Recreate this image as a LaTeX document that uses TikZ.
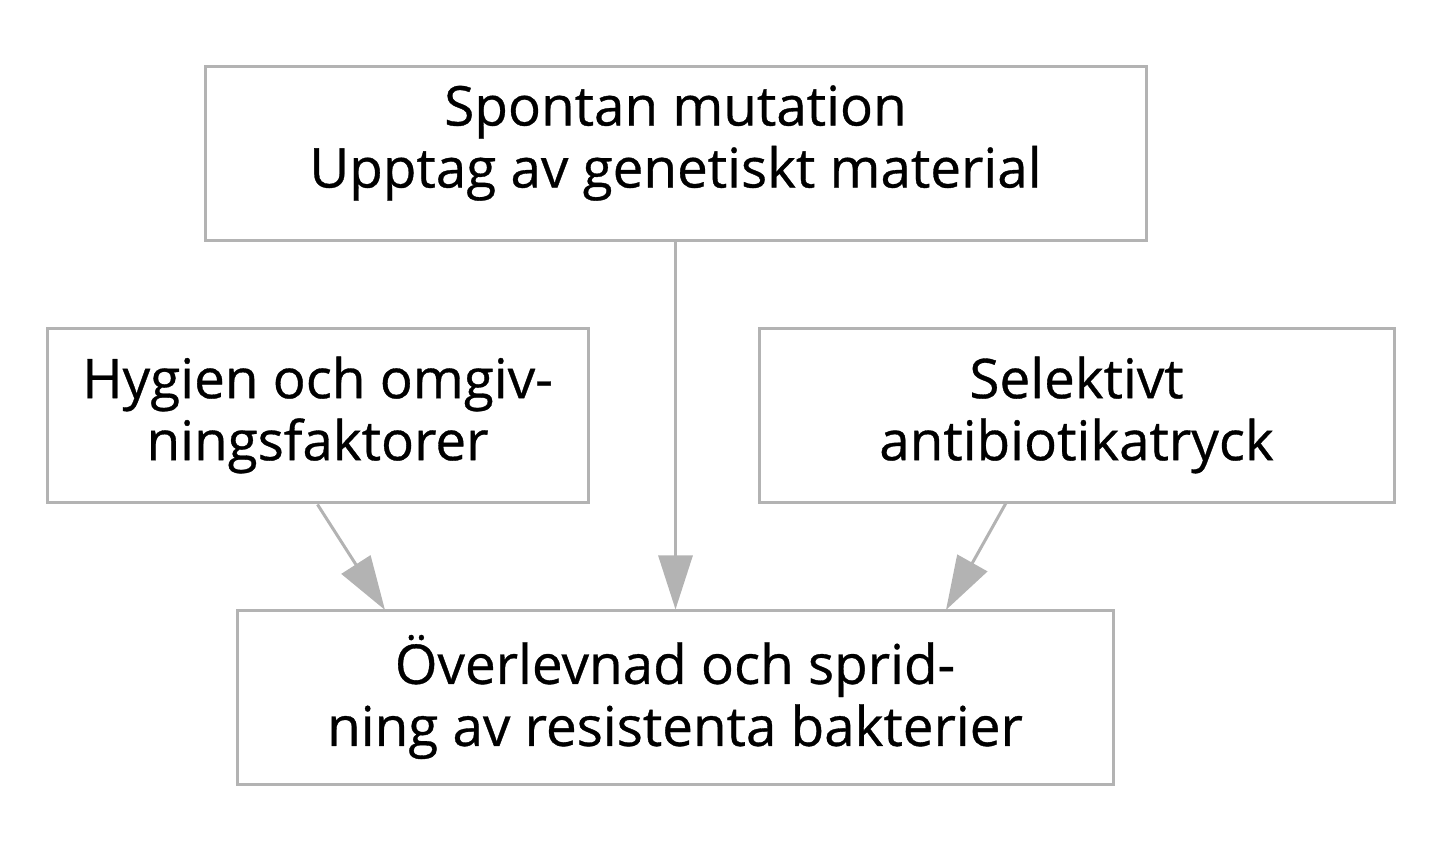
\documentclass[tikz,border=0pt]{standalone}
\usepackage{fontspec}
\setmainfont{Open Sans}[FakeBold=0.6]
\usetikzlibrary{arrows.meta}
\definecolor{lg}{HTML}{B3B3B3}
\tikzset{
  box/.style={draw=lg, line width=1.5pt, inner sep=0pt},
  txt/.style={align=center, inner sep=0pt, yshift=0.5pt,
    font=\fontsize{27.4}{31}\selectfont, text=black},
  arr/.style={draw=lg, line width=1.5pt, -{Triangle[length=27pt,width=17pt]}, fill=lg}
}
\begin{document}
\begin{tikzpicture}[x=0.5pt,y=-0.5pt]
\useasboundingbox (0,0) rectangle (1448,854);
\node[box, minimum width=470.5pt, minimum height=87pt] (top) at (675.5,154) {};
\node[txt, yshift=5pt] (topt) at (top.center) {Spontan mutation\\Upptag av genetiskt material};
\node[box, minimum width=270.5pt, minimum height=87pt] (left) at (317.5,416) {};
\node[txt] (leftt) at (left.center) {Hygien och omgiv-\\ningsfaktorer};
\node[box, minimum width=317.5pt, minimum height=87pt] (right) at (1076.5,416) {};
\node[txt] (rightt) at (right.center) {Selektivt\\antibiotikatryck};
\node[box, minimum width=438pt, minimum height=87pt] (bot) at (675,698) {};
\node[txt] (bott) at (bot.center) {Överlevnad och sprid-\\ning av resistenta bakterier};
\coordinate (lt) at (385,610);
\coordinate (rs) at (1006,503);
\coordinate (rt) at (946,610);
\draw[arr] (top.south) -- (top.south |- bot.north);
\draw[arr] (left.south) -- (lt);
\draw[arr] (rs) -- (rt);
\end{tikzpicture}
\end{document}
